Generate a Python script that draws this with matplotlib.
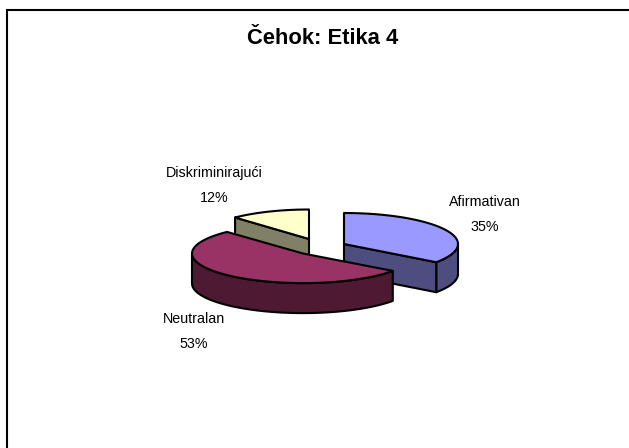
import numpy as np
import matplotlib
matplotlib.use('Agg')
import matplotlib.pyplot as plt
from matplotlib.patches import Polygon

title = 'Čehok: Etika 4'
categories = ['Afirmativan', 'Neutralan', 'Diskriminirajući']
shares = [35, 53, 12]
top_colors = ['#9999FF', '#993366', '#FFFFCC']
side_colors = ['#4D4D80', '#4D1933', '#808066']

# exploded slice centres and radii, in picture pixels
centers = [(344, 244), (303, 253.5), (309, 239)]
radii = [(114, 31), (111, 29.6), (108, 29.5)]
depth = 30
label_pos = [(485, 214.5), (194, 331.5), (214, 185.5)]

plt.rcParams['font.family'] = ['Liberation Sans', 'DejaVu Sans']
fig = plt.figure(figsize=(6.29, 4.48), dpi=100)
ax = fig.add_axes([0, 0, 1, 1])
ax.set_xlim(0, 629)
ax.set_ylim(448, 0)
ax.axis('off')


def rim(center, radius, a0, a1):
    # angles are degrees clockwise from twelve o'clock
    t = np.radians(np.linspace(a0, a1, 80))
    return np.column_stack([center[0] + radius[0] * np.sin(t), center[1] - radius[1] * np.cos(t)])


def add_face(pts, color):
    ax.add_patch(Polygon(pts, closed=True, facecolor=color, edgecolor='black', linewidth=1.5, joinstyle='round'))


ends = np.cumsum(shares) * 3.6
starts = ends - np.array(shares) * 3.6
down = np.array([0, depth])

# back slice first, the big one goes over the other two
for i in [2, 0, 1]:
    c = np.array(centers[i])
    a0, a1 = starts[i], ends[i]
    # outer wall, only the part of the rim that faces the viewer
    v0, v1 = max(a0, 90), min(a1, 270)
    if v1 > v0:
        r = rim(c, radii[i], v0, v1)
        add_face(np.vstack([r, (r + down)[::-1]]), side_colors[i])
    # cut walls
    if i == 0:
        e = rim(c, radii[i], a1, a1)[0]
        add_face([c, e, e + down, c + down], side_colors[i])
    if i == 2:
        e = rim(c, radii[i], a0, a0)[0]
        add_face([c, e, e + down, c + down], side_colors[i])
    add_face(np.vstack([[c], rim(c, radii[i], a0, a1)]), top_colors[i])

for name, share, (x, y) in zip(categories, shares, label_pos):
    ax.text(x, y, '{}\n{}%'.format(name, share), ha='center', va='center', fontsize=10.3,
            linespacing=2.0, color='black')

ax.text(322.5, 44, title, ha='center', va='baseline', fontsize=15.8, fontweight='bold', color='black')

# chart frame, cut off at the right and bottom of the picture
ax.plot([7, 7, 629], [448, 10.5, 10.5], color='black', linewidth=1.5, solid_joinstyle='miter')

fig.savefig('out.png', dpi=100, facecolor='white')
